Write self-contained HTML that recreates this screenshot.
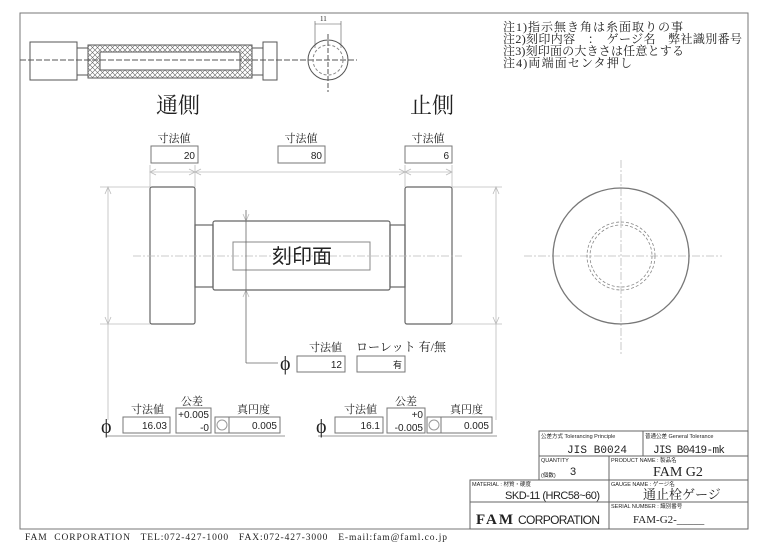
<!DOCTYPE html>
<html><head><meta charset="utf-8"><style>
body{margin:0;background:#fff;}
svg{display:block;}
text{font-family:"Liberation Serif","Noto Serif CJK SC","Noto Sans CJK JP",serif;fill:#222;}
text.s,.s text{font-family:"Liberation Sans","Noto Sans CJK JP",sans-serif;}
</style></head><body>
<svg width="768" height="543" viewBox="0 0 768 543" xmlns="http://www.w3.org/2000/svg">
<g fill="none" stroke="#555" stroke-width="1">
<rect x="20" y="13" width="728" height="516" stroke="#777"/>
<rect x="30" y="42" width="47" height="38"/>
<rect x="77" y="48" width="11" height="27"/>
<rect x="88" y="45" width="164" height="33"/>
<rect x="100" y="52" width="140" height="18"/>
<rect x="252" y="48" width="11" height="27"/>
<rect x="263" y="42" width="14" height="38"/>
<line x1="20" y1="60" x2="357" y2="60" stroke-dasharray="6,2"/>
<circle cx="328" cy="60" r="20"/>
<circle cx="328" cy="60" r="15" stroke-dasharray="3,2" stroke="#888"/>
<line x1="328" y1="34" x2="328" y2="92" stroke-dasharray="5,2"/>
<line x1="315" y1="24" x2="341" y2="24" stroke-width="0.6"/>
<line x1="315" y1="21" x2="315" y2="48" stroke-width="0.6"/>
<line x1="341" y1="21" x2="341" y2="48" stroke-width="0.6"/>
</g>
<defs><pattern id="k" width="5" height="5" patternUnits="userSpaceOnUse"><path d="M0,0L5,5M5,0L0,5" stroke="#666" stroke-width="0.6"/></pattern></defs>
<path d="M88,45h164v33h-164z M100,52v18h140v-18z" fill="url(#k)" fill-rule="evenodd"/>
<text x="320" y="21" font-size="7">11</text>
<text x="156" y="113" font-size="22">通側</text>
<text x="410" y="113" font-size="22">止側</text>
<g font-size="12">
<text x="503" y="31" textLength="180">注1)指示無き角は糸面取りの事</text>
<text x="503" y="43" textLength="239">注2)刻印内容　：　ゲージ名　弊社識別番号</text>
<text x="503" y="55" textLength="181">注3)刻印面の大きさは任意とする</text>
<text x="503" y="67" textLength="129">注4)両端面センタ押し</text>
</g>
<g fill="none" stroke="#666" stroke-width="1.2">
<rect x="150" y="187" width="45" height="137" rx="2"/>
<rect x="405" y="187" width="47" height="137" rx="2"/>
<rect x="195" y="225" width="18" height="62"/>
<rect x="390" y="225" width="15" height="62"/>
<rect x="213" y="221" width="177" height="69" rx="2"/>
<rect x="233" y="242" width="137" height="28" stroke="#888" stroke-width="1"/>
</g>
<g stroke="#bbb" stroke-width="0.8" fill="none">
<line x1="133" y1="256" x2="462" y2="256" stroke-dasharray="8,2,2,2"/>
<line x1="150" y1="165" x2="150" y2="187"/><line x1="195" y1="165" x2="195" y2="187"/>
<line x1="405" y1="165" x2="405" y2="187"/><line x1="452" y1="165" x2="452" y2="187"/>
<line x1="150" y1="172" x2="452" y2="172"/>
<line x1="100" y1="187" x2="150" y2="187"/><line x1="100" y1="324" x2="150" y2="324"/>
<line x1="452" y1="187" x2="502" y2="187"/><line x1="452" y1="324" x2="502" y2="324"/>
<line x1="108" y1="187" x2="108" y2="324"/><line x1="496" y1="187" x2="496" y2="324"/>
<line x1="108" y1="324" x2="108" y2="420"/><line x1="496" y1="324" x2="496" y2="420"/>
<path d="M156,169l-6,3l6,3 M189,169l6,3l-6,3 M201,169l-6,3l6,3 M399,169l6,3l-6,3 M411,169l-6,3l6,3 M446,169l6,3l-6,3"/>
<path d="M105,194l3,-7l3,7 M105,317l3,7l3,-7 M493,194l3,-7l3,7 M493,317l3,7l3,-7"/>
<path d="M243,214l3,7l3,-7 M243,297l3,-7l3,7"/>
</g>
<g stroke="#666" stroke-width="0.8" fill="none">
<line x1="246" y1="210" x2="246" y2="363"/>
<line x1="246" y1="363" x2="278" y2="363"/>
</g>
<g font-size="11" text-anchor="middle">
<text x="174" y="142">寸法値</text>
<text x="301" y="142">寸法値</text>
<text x="428" y="142">寸法値</text>
</g>
<g fill="#fff" stroke="#777" stroke-width="1">
<rect x="151" y="146" width="47" height="17"/><rect x="278" y="146" width="47" height="17"/><rect x="405" y="146" width="47" height="17"/>
<rect x="297" y="356" width="48" height="16"/><rect x="357" y="356" width="48" height="16"/>
<rect x="123" y="417" width="47" height="16"/><rect x="176" y="408" width="35" height="25"/>
<rect x="215" y="417" width="14" height="16"/><rect x="229" y="417" width="51" height="16"/>
<rect x="335" y="417" width="48" height="16"/><rect x="387" y="408" width="38" height="25"/>
<rect x="427" y="417" width="14" height="16"/><rect x="441" y="417" width="51" height="16"/>
</g>
<g stroke="#999" fill="none">
<circle cx="222" cy="425" r="5"/><circle cx="434" cy="425" r="5"/>
<line x1="107" y1="436" x2="285" y2="436"/><line x1="318" y1="436" x2="497" y2="436"/>
</g>
<g class="s" font-size="10" text-anchor="end">
<text x="195" y="159">20</text><text x="322" y="159">80</text><text x="449" y="159">6</text>
<text x="342" y="368">12</text><text x="402" y="368" font-size="9">有</text>
<text x="167" y="429">16.03</text><text x="209" y="418">+0.005</text><text x="209" y="431">-0</text>
<text x="277" y="429">0.005</text>
<text x="380" y="429">16.1</text><text x="423" y="418">+0</text><text x="423" y="431">-0.005</text>
<text x="489" y="429">0.005</text>
</g>
<text x="302" y="263" font-size="20" text-anchor="middle" class="s" fill="#333">刻印面</text>
<g font-size="11">
<text x="309" y="351">寸法値</text><text x="356" y="351" font-size="12">ローレット 有/無</text>
<text x="131" y="413">寸法値</text><text x="181" y="405">公差</text><text x="237" y="413">真円度</text>
<text x="344" y="413">寸法値</text><text x="395" y="405">公差</text><text x="450" y="413">真円度</text>
</g>
<g font-size="20"><text x="280" y="370">ϕ</text><text x="101" y="433">ϕ</text><text x="316" y="433">ϕ</text></g>
<g fill="none">
<line x1="621" y1="160" x2="621" y2="355" stroke="#bbb" stroke-dasharray="8,2,2,2" stroke-width="0.8"/>
<line x1="524" y1="256" x2="722" y2="256" stroke="#bbb" stroke-dasharray="8,2,2,2" stroke-width="0.8"/>
<circle cx="621" cy="256" r="68" stroke="#777" stroke-width="1.3"/>
<circle cx="621" cy="256" r="34" stroke="#888" stroke-dasharray="3,2" stroke-width="0.8"/>
<circle cx="621" cy="256" r="31" stroke="#888" stroke-dasharray="3,2" stroke-width="0.8"/>
</g>
<g fill="none" stroke="#666" stroke-width="1">
<path d="M539,480V431H748V529"/>
<rect x="470" y="480" width="278" height="49"/>
<line x1="539" y1="456" x2="748" y2="456"/><line x1="470" y1="502" x2="748" y2="502"/>
<line x1="643" y1="431" x2="643" y2="456"/><line x1="609" y1="456" x2="609" y2="529"/>
</g>
<g font-size="5.5" class="s">
<text x="541" y="438" fill="#444">公差方式 Tolerancing Principle</text><text x="645" y="438" fill="#444">普通公差 General Tolerance</text>
<text x="541" y="462" fill="#444">QUANTITY</text><text x="541" y="477" fill="#444">(個数)</text>
<text x="611" y="462" fill="#444">PRODUCT NAME : 製品名</text>
<text x="472" y="486" fill="#444">MATERIAL : 材質・硬度</text><text x="611" y="486" fill="#444">GAUGE NAME : ゲージ名</text>
<text x="611" y="508" fill="#444">SERIAL NUMBER : 識別番号</text>
</g>
<text x="567" y="453" fill="#999" font-size="11" style="font-family:'Liberation Mono',monospace" textLength="60">JIS B0024</text>
<text x="653" y="453" fill="#999" font-size="11" style="font-family:'Liberation Mono',monospace" textLength="72">JIS B0419-mk</text>
<text x="570" y="475" class="s" font-size="11">3</text>
<text x="653" y="476" font-size="14">FAM  G2</text>
<text x="505" y="499" class="s" font-size="11" textLength="95">SKD-11 (HRC58~60)</text>
<text x="643" y="499" font-size="13">通止栓ゲージ</text>
<text x="476" y="524" font-size="15" font-weight="bold" letter-spacing="2">FAM</text>
<text x="518" y="524" class="s" font-size="12" textLength="82">CORPORATION</text>
<text x="633" y="523" font-size="11">FAM-G2-_____</text>
<text x="25" y="540" font-size="9.5" fill="#333" xml:space="preserve" style="white-space:pre" textLength="422">FAM  CORPORATION   TEL:072-427-1000   FAX:072-427-3000   E-mail:fam@faml.co.jp</text>
</svg>
</body></html>
